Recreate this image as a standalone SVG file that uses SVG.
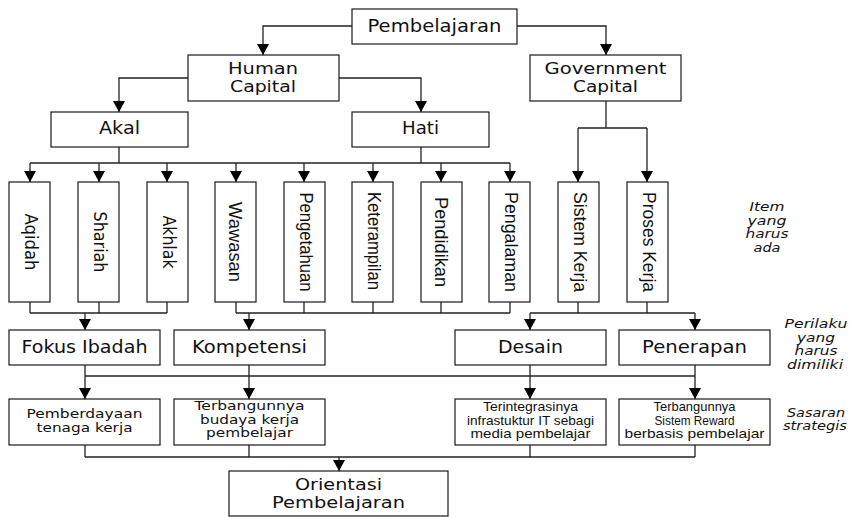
<svg xmlns="http://www.w3.org/2000/svg" width="853" height="517" viewBox="0 0 853 517">
<style>
.box{fill:#fff;stroke:#1a1a1a;stroke-width:1.2}
.t{font-family:"DejaVu Sans","Liberation Sans",sans-serif;fill:#111;text-anchor:middle}
.c{font-family:"Liberation Sans Narrow","Liberation Sans",sans-serif;fill:#111;text-anchor:middle}
.i{font-family:"DejaVu Sans","Liberation Sans",sans-serif;font-style:italic;fill:#111;text-anchor:middle;font-size:12px}
.ln{fill:none;stroke:#222;stroke-width:1.3}
.ar{fill:none;stroke:#222;stroke-width:1.3;marker-end:url(#ah)}
</style>
<defs>
<marker id="ah" markerUnits="userSpaceOnUse" markerWidth="12" markerHeight="12" refX="11" refY="6" orient="auto">
<path d="M0,0 L11,6 L0,12 z" fill="#000"/>
</marker>
</defs>
<rect width="853" height="517" fill="#fff"/>
<g id="connectors">
<path class="ar" d="M352,26 H263 V55"/>
<path class="ar" d="M517,26 H606 V55"/>
<path class="ar" d="M188,78 H119 V112"/>
<path class="ar" d="M339,78 H421 V112"/>
<path class="ln" d="M119,147 V163 M421,147 V163 M30,163 H510"/>
<path class="ar" d="M30,163 V182"/>
<path class="ar" d="M99,163 V182"/>
<path class="ar" d="M167,163 V182"/>
<path class="ar" d="M236,163 V182"/>
<path class="ar" d="M304,163 V182"/>
<path class="ar" d="M373,163 V182"/>
<path class="ar" d="M441,163 V182"/>
<path class="ar" d="M510,163 V182"/>
<path class="ln" d="M606,101 V128 M578,128 H647"/>
<path class="ar" d="M578,128 V182"/>
<path class="ar" d="M647,128 V182"/>
<path class="ln" d="M30,302 V313 M99,302 V313 M167,302 V313 M30,313 H167"/>
<path class="ar" d="M85,313 V330"/>
<path class="ln" d="M236,302 V313 M304,302 V313 M373,302 V313 M441,302 V313 M510,302 V313 M236,313 H510"/>
<path class="ar" d="M249,313 V330"/>
<path class="ln" d="M578,302 V313 M647,302 V313 M530,313 H695"/>
<path class="ar" d="M530,313 V330"/>
<path class="ar" d="M695,313 V330"/>
<path class="ln" d="M85,376 H695"/>
<path class="ar" d="M85,365 V399"/>
<path class="ar" d="M249,365 V399"/>
<path class="ar" d="M530,365 V399"/>
<path class="ar" d="M695,365 V399"/>
<path class="ln" d="M85,445 V457 M249,445 V457 M530,445 V457 M695,445 V457 M85,457 H695"/>
<path class="ar" d="M339,457 V471"/>
</g>
<g id="pembelajaran"><rect class="box" x="352" y="9" width="165" height="35"/><text class="t" x="434.5" y="32" font-size="18" textLength="134" lengthAdjust="spacingAndGlyphs">Pembelajaran</text></g>
<g id="human-capital"><rect class="box" x="188" y="55" width="151" height="46"/><text class="t" x="263" y="74" font-size="16" textLength="70" lengthAdjust="spacingAndGlyphs">Human</text><text class="t" x="263" y="92" font-size="16" textLength="66" lengthAdjust="spacingAndGlyphs">Capital</text></g>
<g id="government-capital"><rect class="box" x="530" y="55" width="151" height="46"/><text class="t" x="605.5" y="74" font-size="16" textLength="122" lengthAdjust="spacingAndGlyphs">Government</text><text class="t" x="605.5" y="92" font-size="16" textLength="65" lengthAdjust="spacingAndGlyphs">Capital</text></g>
<g id="akal"><rect class="box" x="51" y="112" width="137" height="35"/><text class="t" x="119.5" y="134" font-size="17" textLength="41" lengthAdjust="spacingAndGlyphs">Akal</text></g>
<g id="hati"><rect class="box" x="352" y="112" width="137" height="35"/><text class="t" x="420.5" y="134" font-size="17" textLength="37" lengthAdjust="spacingAndGlyphs">Hati</text></g>
<g id="aqidah"><rect class="box" x="9" y="182" width="41" height="120"/><text class="t" transform="translate(30,242) rotate(90)" y="5" font-size="17" textLength="57" lengthAdjust="spacingAndGlyphs">Aqidah</text></g>
<g id="shariah"><rect class="box" x="78" y="182" width="41" height="120"/><text class="t" transform="translate(99,242) rotate(90)" y="5" font-size="17" textLength="61" lengthAdjust="spacingAndGlyphs">Shariah</text></g>
<g id="akhlak"><rect class="box" x="147" y="182" width="41" height="120"/><text class="t" transform="translate(167.5,242) rotate(90)" y="5" font-size="17" textLength="53" lengthAdjust="spacingAndGlyphs">Akhlak</text></g>
<g id="wawasan"><rect class="box" x="215" y="182" width="41" height="120"/><text class="c" transform="translate(235.5,242) rotate(90)" y="6.5" font-size="18" textLength="80" lengthAdjust="spacingAndGlyphs">Wawasan</text></g>
<g id="pengetahuan"><rect class="box" x="284" y="182" width="41" height="120"/><text class="c" transform="translate(304.5,242) rotate(90)" y="5" font-size="18" textLength="99" lengthAdjust="spacingAndGlyphs">Pengetahuan</text></g>
<g id="keterampilan"><rect class="box" x="352" y="182" width="41" height="120"/><text class="c" transform="translate(372.5,241) rotate(90)" y="5" font-size="18" textLength="98" lengthAdjust="spacingAndGlyphs">Keterampilan</text></g>
<g id="pendidikan"><rect class="box" x="421" y="182" width="41" height="120"/><text class="c" transform="translate(441.5,242) rotate(90)" y="6.5" font-size="18" textLength="90" lengthAdjust="spacingAndGlyphs">Pendidikan</text></g>
<g id="pengalaman"><rect class="box" x="489" y="182" width="41" height="120"/><text class="c" transform="translate(509.5,242) rotate(90)" y="5" font-size="18" textLength="100" lengthAdjust="spacingAndGlyphs">Pengalaman</text></g>
<g id="sistem-kerja"><rect class="box" x="558" y="182" width="41" height="120"/><text class="c" transform="translate(578.5,242) rotate(90)" y="5" font-size="18" textLength="100" lengthAdjust="spacingAndGlyphs">Sistem Kerja</text></g>
<g id="proses-kerja"><rect class="box" x="627" y="182" width="41" height="120"/><text class="c" transform="translate(647.5,242) rotate(90)" y="5" font-size="18" textLength="100" lengthAdjust="spacingAndGlyphs">Proses Kerja</text></g>
<g id="fokus-ibadah"><rect class="box" x="9" y="330" width="151" height="35"/><text class="t" x="84.5" y="353" font-size="17" textLength="126" lengthAdjust="spacingAndGlyphs">Fokus Ibadah</text></g>
<g id="kompetensi"><rect class="box" x="174" y="330" width="151" height="35"/><text class="t" x="249.5" y="353" font-size="17" textLength="115" lengthAdjust="spacingAndGlyphs">Kompetensi</text></g>
<g id="desain"><rect class="box" x="455" y="330" width="151" height="35"/><text class="t" x="530.5" y="353" font-size="17" textLength="65" lengthAdjust="spacingAndGlyphs">Desain</text></g>
<g id="penerapan"><rect class="box" x="619" y="330" width="151" height="35"/><text class="t" x="694.5" y="353" font-size="17" textLength="105" lengthAdjust="spacingAndGlyphs">Penerapan</text></g>
<g id="pemberdayaan"><rect class="box" x="9" y="399" width="151" height="46"/><text class="t" x="84.5" y="418" font-size="13" textLength="116" lengthAdjust="spacingAndGlyphs">Pemberdayaan</text><text class="t" x="84.5" y="432" font-size="13" textLength="96" lengthAdjust="spacingAndGlyphs">tenaga kerja</text></g>
<g id="budaya-kerja"><rect class="box" x="174" y="399" width="151" height="46"/><text class="t" x="249.5" y="410" font-size="12.5" textLength="110" lengthAdjust="spacingAndGlyphs">Terbangunnya</text><text class="t" x="249.5" y="423.5" font-size="12.5" textLength="99" lengthAdjust="spacingAndGlyphs">budaya kerja</text><text class="t" x="249.5" y="437" font-size="12.5" textLength="87" lengthAdjust="spacingAndGlyphs">pembelajar</text></g>
<g id="infrastruktur-it"><rect class="box" x="455" y="399" width="151" height="46"/><text class="c" x="530.5" y="411" font-size="13" textLength="95" lengthAdjust="spacingAndGlyphs">Terintegrasinya</text><text class="c" x="530.5" y="424.5" font-size="13" textLength="127" lengthAdjust="spacingAndGlyphs">infrastuktur IT sebagi</text><text class="c" x="530.5" y="438" font-size="13" textLength="120" lengthAdjust="spacingAndGlyphs">media pembelajar</text></g>
<g id="sistem-reward"><rect class="box" x="619" y="399" width="151" height="46"/><text class="c" x="694.5" y="411" font-size="13" textLength="82" lengthAdjust="spacingAndGlyphs">Terbangunnya</text><text class="c" x="694.5" y="424.5" font-size="13" textLength="80" lengthAdjust="spacingAndGlyphs">Sistem Reward</text><text class="c" x="694.5" y="438" font-size="13" textLength="140" lengthAdjust="spacingAndGlyphs">berbasis pembelajar</text></g>
<g id="orientasi-pembelajaran"><rect class="box" x="229" y="471" width="219" height="45"/><text class="t" x="338.5" y="490" font-size="16" textLength="87" lengthAdjust="spacingAndGlyphs">Orientasi</text><text class="t" x="338.5" y="508" font-size="16" textLength="133" lengthAdjust="spacingAndGlyphs">Pembelajaran</text></g>
<g id="label-item">
<text class="i" x="767" y="211" textLength="35" lengthAdjust="spacingAndGlyphs">Item</text>
<text class="i" x="767" y="224.5" textLength="39" lengthAdjust="spacingAndGlyphs">yang</text>
<text class="i" x="767" y="238" textLength="43" lengthAdjust="spacingAndGlyphs">harus</text>
<text class="i" x="767" y="251.5" textLength="27" lengthAdjust="spacingAndGlyphs">ada</text>
</g>
<g id="label-perilaku">
<text class="i" x="816" y="328" textLength="63" lengthAdjust="spacingAndGlyphs">Perilaku</text>
<text class="i" x="816" y="341.5" textLength="38" lengthAdjust="spacingAndGlyphs">yang</text>
<text class="i" x="816" y="355" textLength="43" lengthAdjust="spacingAndGlyphs">harus</text>
<text class="i" x="815" y="368.5" textLength="56" lengthAdjust="spacingAndGlyphs">dimiliki</text>
</g>
<g id="label-sasaran">
<text class="i" x="816" y="417" textLength="58" lengthAdjust="spacingAndGlyphs">Sasaran</text>
<text class="i" x="815" y="430" textLength="64" lengthAdjust="spacingAndGlyphs">strategis</text>
</g>
</svg>
